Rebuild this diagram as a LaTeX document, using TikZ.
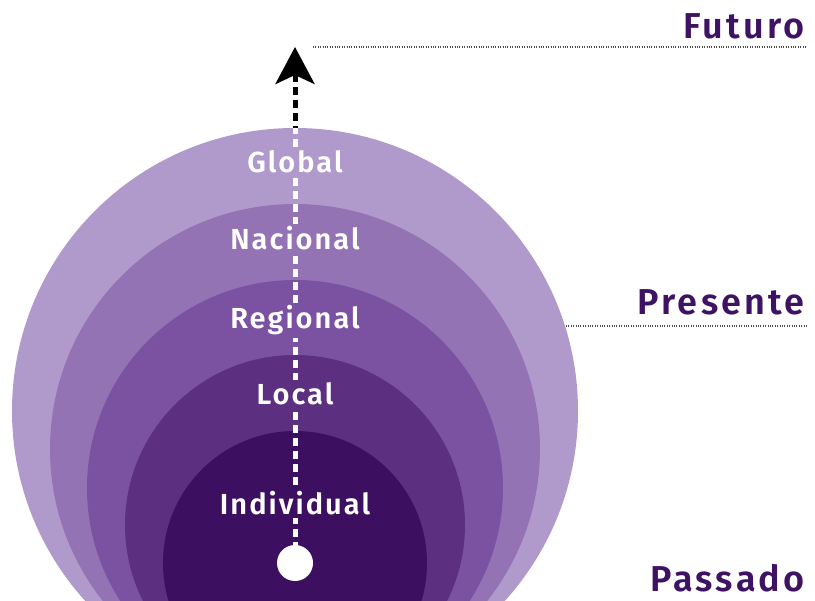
\documentclass[tikz,border=0pt]{standalone}
\usepackage{fontspec}
\newfontfamily\scalefont{Fira Sans SemiBold}[LetterSpace=7]
\newfontfamily\timefont{Fira Sans SemiBold}[LetterSpace=9]
\usetikzlibrary{arrows.meta}
\definecolor{ring1}{HTML}{B09ACB}
\definecolor{ring2}{HTML}{9473B4}
\definecolor{ring3}{HTML}{7B52A2}
\definecolor{ring4}{HTML}{5C2F80}
\definecolor{ring5}{HTML}{3D0F60}
\definecolor{timepurple}{HTML}{3F1363}

\begin{document}
\begin{tikzpicture}[x=1pt,y=-1pt]
        \tikzstyle{every node}=[text=white,inner sep=3pt,font=\scalefont\fontsize{29}{29}\selectfont]
        \tikzstyle{time}=[text=timepurple,anchor=base east,inner sep=0pt,font=\timefont\fontsize{36}{36}\selectfont]
        \tikzstyle{guide}=[black!70,line width=1.2pt,dash pattern=on 1pt off 1.4pt]
        \tikzstyle{axis}=[line width=5pt,dash pattern=on 8pt off 5pt]
        \useasboundingbox (0,0) rectangle (815,601);
        \clip (0,0) rectangle (815,601);
        % rings, outer to inner
        \foreach \r/\cy/\c in {283/411/ring1,245/449/ring2,208/488/ring3,170/525/ring4,132/563/ring5}
            \fill[\c] (295,\cy) circle (\r pt);
        % time axis
        \coordinate (base) at (295,563);
        \coordinate (top) at (295,47);
        \draw[axis,black,-{Stealth[length=37pt,width=39pt,inset=9pt]}] (base) -- (top);
        \begin{scope}
            \clip (295,411) circle (283pt);
            \draw[axis,white] (base) -- (top);
        \end{scope}
        \node[circle,fill=white,minimum size=36pt,inner sep=0pt] (start) at (base) {};
        % scales
        \node[anchor=base,fill=ring1] (global) at (295,173) {Global};
        \node[anchor=base,fill=ring2] (nacional) at (295,250) {Nacional};
        \node[anchor=base,fill=ring3] (regional) at (295,329) {Regional};
        \node[anchor=base,fill=ring4] (local) at (295,405) {Local};
        \node[anchor=base,fill=ring5] (individual) at (295,515) {Individual};
        % time labels
        \node[time] (futuro) at (805,39) {Futuro};
        \node[time] (presente) at (805,315) {Presente};
        \node[time] (passado) at (805,592) {Passado};
        \coordinate (f1) at (313,47); \coordinate (f2) at (807,47);
        \coordinate (p1) at (566,326); \coordinate (p2) at (807,326);
        \draw[guide] (f1) -- (f2);
        \draw[guide] (p1) -- (p2);
    \end{tikzpicture}
\end{document}
